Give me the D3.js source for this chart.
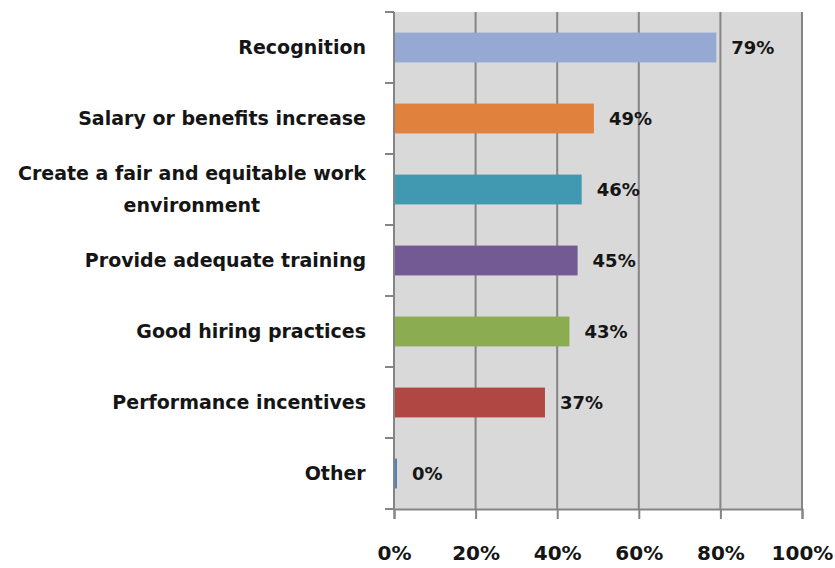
<!DOCTYPE html>
<html>
<head>
  <meta charset="utf-8">
  <style>
  body { margin: 0; background: #fff; }
  text { font-family: "DejaVu Sans", sans-serif; font-weight: bold; fill: #151515; }
  </style>
</head>
<body>
<svg width="835" height="568"></svg>
<script src="https://d3js.org/d3.v7.min.js"></script>
<script>

var categories = [
  ["Recognition"],
  ["Salary or benefits increase"],
  ["Create a fair and equitable work", "environment"],
  ["Provide adequate training"],
  ["Good hiring practices"],
  ["Performance incentives"],
  ["Other"]
];
var values = [0.79, 0.49, 0.46, 0.45, 0.43, 0.37, 0.00];
var colors = ["#95a9d3", "#e0823d", "#4199b1", "#735a94", "#8bac51", "#b14743", "#4f81bd"];
var ticks = [0, 0.2, 0.4, 0.6, 0.8, 1.0];

var svg = d3.select("svg"),
    plotL = 394, plotR = 802, plotT = 12, plotB = 509;

var x = d3.scaleLinear().domain([0, 1]).range([plotL, plotR]);
var y = d3.scaleBand().domain(d3.range(values.length)).range([plotT, plotB])
    .paddingInner(0.58).paddingOuter(0.29);

var step = (plotB - plotT) / values.length;
var gridColor = "#858585";

// plot background
svg.append("rect")
    .attr("x", plotL).attr("y", plotT)
    .attr("width", plotR - plotL).attr("height", plotB - plotT)
    .attr("fill", "#d9d9d9");

// vertical gridlines
svg.append("g").selectAll("line")
  .data(ticks.slice(1))
  .enter().append("line")
    .attr("x1", function(d) { return x(d); })
    .attr("x2", function(d) { return x(d); })
    .attr("y1", plotT).attr("y2", plotB)
    .attr("stroke", gridColor).attr("stroke-width", 2);

// y axis line + ticks
var yax = svg.append("g").attr("stroke", gridColor).attr("stroke-width", 2);
yax.append("line").attr("x1", plotL).attr("x2", plotL).attr("y1", plotT).attr("y2", plotB);
yax.selectAll(".yt")
  .data(d3.range(values.length + 1))
  .enter().append("line")
    .attr("x1", plotL - 9).attr("x2", plotL)
    .attr("y1", function(i) { return plotT + i * step; })
    .attr("y2", function(i) { return plotT + i * step; });

// bars
svg.append("g").selectAll("rect")
  .data(values)
  .enter().append("rect")
    .attr("x", x(0) + 1)
    .attr("y", function(d, i) { return y(i); })
    .attr("width", function(d) { return Math.max(2, x(d) - x(0) - 1); })
    .attr("height", y.bandwidth())
    .attr("fill", function(d, i) { return colors[i]; });

// value labels
svg.append("g").selectAll("text")
  .data(values)
  .enter().append("text")
    .attr("x", function(d) { return Math.max(x(d), x(0) + 3) + 15; })
    .attr("y", function(d, i) { return y(i) + y.bandwidth() / 2; })
    .attr("dy", "0.36em")
    .style("font-size", "18px")
    .text(function(d) { return d3.format(".0%")(d); });

// x axis
var xAxis = svg.append("g")
    .attr("transform", "translate(0," + plotB + ")")
    .call(d3.axisBottom(x).tickValues(ticks).tickFormat(d3.format(".0%")).tickSize(10).tickPadding(27));
xAxis.select(".domain").attr("stroke", gridColor).attr("stroke-width", 2);
xAxis.selectAll(".tick line").attr("stroke", gridColor).attr("stroke-width", 2);
xAxis.selectAll(".tick text")
    .style("font-size", "20px").style("font-family", "'DejaVu Sans', sans-serif")
    .style("font-weight", "bold").attr("fill", "#151515");

// category labels
var lab = svg.append("g").selectAll("text")
  .data(categories)
  .enter().append("text")
    .attr("text-anchor", "middle")
    .style("font-size", "19px");
lab.each(function(lines, i) {
  var t = d3.select(this);
  var n = lines.length;
  lines.forEach(function(s, k) {
    t.append("tspan")
      .attr("x", 0)
      .attr("y", (k - (n - 1) / 2) * 32)
      .attr("dy", "0.36em")
      .text(s);
  });
  // right-align the block at 366, lines centred within it
  var bb = this.getBBox();
  t.attr("transform", "translate(" + (366 - bb.width / 2) + "," + (y(i) + y.bandwidth() / 2) + ")");
});

</script>
</body>
</html>
